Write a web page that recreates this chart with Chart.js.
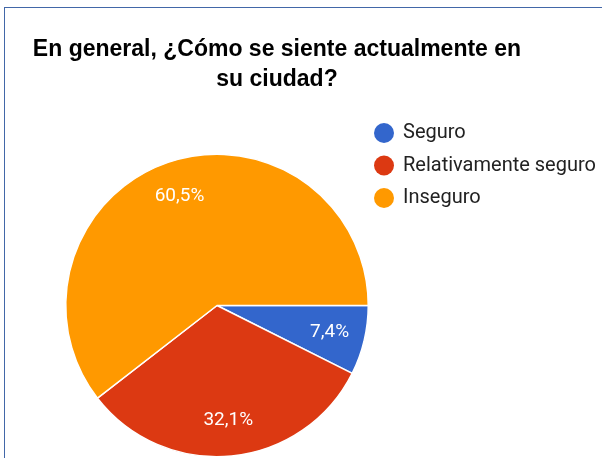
<!DOCTYPE html>
<html>
<head>
<meta charset="utf-8">
<script src="https://cdn.jsdelivr.net/npm/chart.js@4/dist/chart.umd.min.js"></script>
<style>
  html, body { margin: 0; padding: 0; background: #fff; }
  #wrap { position: relative; width: 602px; height: 458px; }
  #frame { position: absolute; left: 4px; top: 7px; right: 0; bottom: 0;
           border-left: 1.5px solid #4267a8; border-top: 1.5px solid #4267a8; pointer-events: none; }
</style>
</head>
<body>
<div id="wrap">
  <canvas id="pieChart" width="602" height="458"></canvas>
  <div id="frame"></div>
</div>
<script>
const titleLines = ['En general, ¿Cómo se siente actualmente en', 'su ciudad?']
const labels = ['Seguro', 'Relativamente seguro', 'Inseguro']
const values = [7.4, 32.1, 60.5]
const colors = ['#3366cc', '#dc3912', '#ff9900']

// title, slice labels and legend drawn on the canvas
const extras = {
  id: 'extras',
  afterDraw(chart) {
    const ctx = chart.ctx
    ctx.save()
    ctx.fillStyle = '#000'
    ctx.textAlign = 'center'
    ctx.textBaseline = 'alphabetic'
    ctx.font = 'bold 23px "Liberation Sans"'
    ctx.fillText(titleLines[0], 277, 56)
    ctx.fillText(titleLines[1], 277, 86)

    const meta = chart.getDatasetMeta(0)
    ctx.fillStyle = '#fff'
    ctx.font = '19px Roboto'
    ctx.textBaseline = 'middle'
    meta.data.forEach((arc, i) => {
      const p = arc.getProps(['x', 'y', 'startAngle', 'endAngle', 'outerRadius'], true)
      const mid = (p.startAngle + p.endAngle) / 2
      const r = p.outerRadius * 0.765
      ctx.fillText(values[i].toFixed(1).replace('.', ',') + '%', p.x + Math.cos(mid) * r, p.y + Math.sin(mid) * r)
    })

    ctx.textAlign = 'left'
    ctx.font = '20px Roboto'
    labels.forEach((lab, i) => {
      const y = 133 + i * 32.5
      ctx.fillStyle = colors[i]
      ctx.beginPath()
      ctx.arc(384, y, 10, 0, Math.PI * 2)
      ctx.fill()
      ctx.fillStyle = '#222'
      ctx.fillText(lab, 403, y)
    })
    ctx.restore()
  }
}

const ctx = document.getElementById('pieChart').getContext('2d')
const chart = new Chart(ctx, {
  type: 'pie',
  data: {
    labels: labels,
    datasets: [{
      data: values,
      backgroundColor: colors,
      borderColor: '#fff',
      borderWidth: 1.5,
      hoverOffset: 0
    }]
  },
  options: {
    responsive: false,
    animation: false,
    rotation: 90,
    layout: {
      padding: { left: 65, top: 153, right: 233, bottom: 0 }
    },
    plugins: {
      legend: { display: false },
      tooltip: { enabled: false },
      title: { display: false }
    }
  },
  plugins: [extras]
})
</script>
</body>
</html>
